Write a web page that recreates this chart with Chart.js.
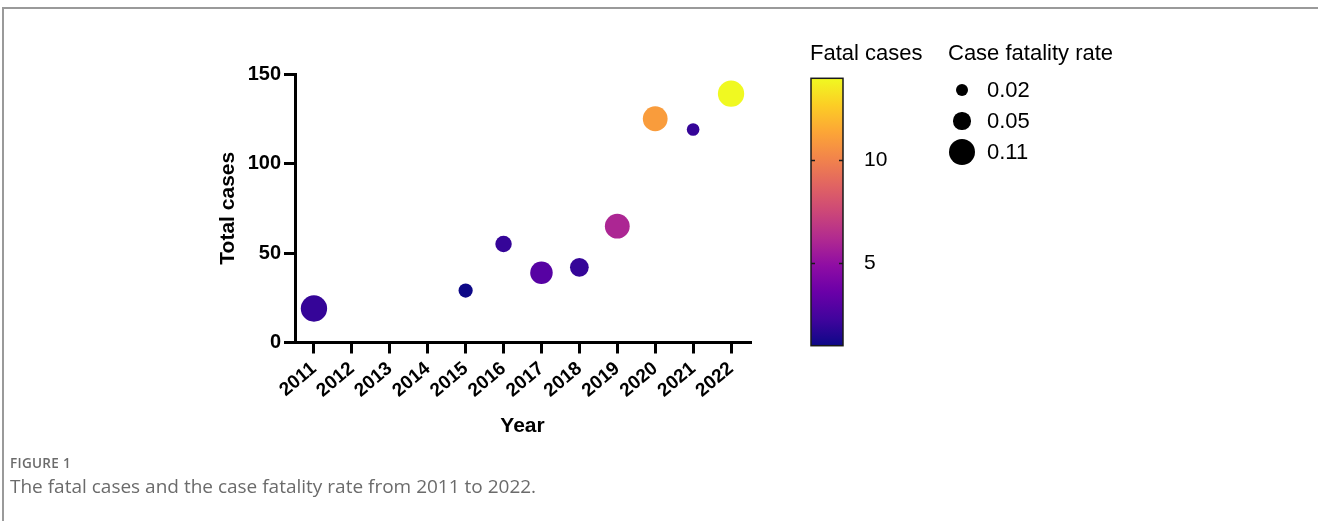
<!DOCTYPE html>
<html>
<head>
<meta charset="utf-8">
<script src="https://cdn.jsdelivr.net/npm/chart.js@4.4.0/dist/chart.umd.min.js"></script>
<style>
html,body{margin:0;padding:0;background:#fff;}
body{width:1318px;height:521px;position:relative;overflow:hidden;font-family:"Liberation Sans",Arial,sans-serif;}
#frameTop{position:absolute;left:2px;top:7px;width:1316px;height:2px;background:#9a9a9a;}
#frameLeft{position:absolute;left:2px;top:7px;width:2px;height:514px;background:#9a9a9a;}
#main{position:absolute;left:0;top:0;}
#cbar{position:absolute;left:780px;top:60px;}
.t{position:absolute;white-space:nowrap;font-size:22px;line-height:22px;color:#000;font-family:"Liberation Sans",Arial,sans-serif;}
.dot{position:absolute;background:#000;border-radius:50%;}
#figLabel{position:absolute;left:10px;top:456.5px;font-family:"Open Sans",sans-serif;font-size:13.5px;line-height:13.5px;font-weight:600;color:#6b6b6b;letter-spacing:0.3px;}
#caption{position:absolute;left:10px;top:476.5px;font-family:"Open Sans",sans-serif;font-size:19px;line-height:19px;font-weight:400;color:#6b6b6b;white-space:nowrap;}
</style>
</head>
<body>
<div id="frameTop"></div>
<div id="frameLeft"></div>
<canvas id="main" width="1318" height="521"></canvas>
<canvas id="cbar" width="140" height="300"></canvas>
<div id="legend"></div>
<div id="figLabel">FIGURE 1</div>
<div id="caption">The fatal cases and the case fatality rate from 2011 to 2022.</div>
<script>
// ---------------- data ----------------
const years = ['2011','2012','2013','2014','2015','2016','2017','2018','2019','2020','2021','2022'];
const pointYears = ['2011','2015','2016','2017','2018','2019','2020','2021','2022'];
const totalCases = [19, 29, 55, 39, 42, 65, 125, 119, 139];
const fatalCases = [2, 1, 2, 3, 2, 6, 11, 2, 14];
const fatalityRate = [0.11, 0.03, 0.045, 0.085, 0.06, 0.10, 0.10, 0.02, 0.11];
const yTicks = [0, 50, 100, 150];
const colorbarTicks = [5, 10];
const colorbarRange = [1, 14];
const sizeLegendRates = [0.02, 0.05, 0.11];
const sizeLegendLabels = ['0.02', '0.05', '0.11'];

// ---------------- helpers ----------------
const FONT = '"Liberation Sans", Arial, sans-serif';
const PLASMA = ['#0d0887','#41049d','#6a00a8','#8f0da4','#b12a90','#cc4778','#e16462','#f2844b','#fca636','#fcce25','#f0f921'];
function hexToRgb(h){return [parseInt(h.substr(1,2),16),parseInt(h.substr(3,2),16),parseInt(h.substr(5,2),16)];}
function plasma(t){
  t = Math.max(0, Math.min(1, t));
  const p = t * (PLASMA.length - 1);
  const i = Math.min(Math.floor(p), PLASMA.length - 2);
  const f = p - i;
  const a = hexToRgb(PLASMA[i]), b = hexToRgb(PLASMA[i+1]);
  const c = a.map((v,k)=>Math.round(v + (b[k]-v)*f));
  return 'rgb(' + c.join(',') + ')';
}
function colorFor(v){return plasma((v - colorbarRange[0]) / (colorbarRange[1] - colorbarRange[0]));}
function radiusFor(rate){return 4.8 + 76 * rate;}

// ---------------- main bubble chart ----------------
new Chart(document.getElementById('main'), {
  type: 'bubble',
  data: {
    labels: years,
    datasets: [{
      data: pointYears.map((x, i) => ({x: x, y: totalCases[i], r: radiusFor(fatalityRate[i])})),
      backgroundColor: fatalCases.map(colorFor),
      borderWidth: 0,
      hoverRadius: 0
    }]
  },
  options: {
    responsive: false,
    animation: false,
    events: [],
    plugins: {legend: {display: false}, tooltip: {enabled: false}},
    layout: {padding: {left: 216, top: 74, right: 568, bottom: 82.5}},
    scales: {
      x: {
        type: 'category',
        labels: years,
        offset: true,
        grid: {offset: false, drawOnChartArea: false, drawTicks: true, tickLength: 11, lineWidth: 3, color: '#000'},
        border: {display: true, width: 3, color: '#000'},
        ticks: {color: '#000', font: {family: FONT, size: 19, weight: 'bold'}, minRotation: 40, maxRotation: 40, padding: 4, autoSkip: false},
        title: {display: true, text: 'Year', color: '#000', font: {family: FONT, size: 21, weight: 'bold'}, padding: 0},
        afterFit: function(s){ s.height = 96; }
      },
      y: {
        type: 'linear',
        min: 0, max: 150,
        afterBuildTicks: function(s){ s.ticks = yTicks.map(v => ({value: v})); },
        grid: {drawOnChartArea: false, drawTicks: true, tickLength: 11, lineWidth: 3, color: '#000'},
        border: {display: true, width: 3, color: '#000'},
        ticks: {color: '#000', font: {family: FONT, size: 20, weight: 'bold'}, padding: 3},
        title: {display: true, text: 'Total cases', color: '#000', font: {family: FONT, size: 21, weight: 'bold'}, padding: 0},
        afterFit: function(s){ s.width = 79; }
      }
    }
  }
});

// ---------------- colour bar ----------------
const colorbarPlugin = {
  id: 'colorbar',
  beforeDraw(chart){
    const {ctx, chartArea: a, scales: {y}} = chart;
    const g = ctx.createLinearGradient(0, a.bottom, 0, a.top);
    PLASMA.forEach((c, i) => g.addColorStop(i / (PLASMA.length - 1), c));
    ctx.save();
    ctx.fillStyle = g;
    ctx.fillRect(a.left, a.top, a.right - a.left, a.bottom - a.top);
    ctx.strokeStyle = '#1a1a1a';
    ctx.lineWidth = 1.5;
    ctx.strokeRect(a.left, a.top, a.right - a.left, a.bottom - a.top);
    colorbarTicks.forEach(v => {
      const py = y.getPixelForValue(v);
      ctx.beginPath();
      ctx.moveTo(a.left, py); ctx.lineTo(a.left + 4, py);
      ctx.moveTo(a.right - 4, py); ctx.lineTo(a.right, py);
      ctx.stroke();
    });
    ctx.restore();
  }
};
new Chart(document.getElementById('cbar'), {
  type: 'scatter',
  data: {datasets: []},
  options: {
    responsive: false,
    animation: false,
    events: [],
    plugins: {legend: {display: false}, tooltip: {enabled: false}},
    layout: {padding: {left: 31, top: 18.3, bottom: 14.3, right: 0}},
    scales: {
      x: {display: false, min: 0, max: 1},
      y: {
        position: 'right',
        min: colorbarRange[0], max: colorbarRange[1],
        afterBuildTicks: function(s){ s.ticks = colorbarTicks.map(v => ({value: v})); },
        grid: {display: false, drawTicks: true, tickLength: 21},
        border: {display: false},
        ticks: {color: '#000', font: {family: FONT, size: 21}, padding: 0},
        afterFit: function(s){ s.width = 77; }
      }
    }
  },
  plugins: [colorbarPlugin]
});

// ---------------- legends (HTML text) ----------------
const legend = document.getElementById('legend');
function addText(txt, left, baseline){
  const d = document.createElement('div');
  d.className = 't';
  d.textContent = txt;
  d.style.left = left + 'px';
  d.style.top = (baseline - 22 * 0.8465) + 'px';
  legend.appendChild(d);
}
addText('Fatal cases', 810, 61);
addText('Case fatality rate', 948, 61);
const legendY = [90, 121, 152];
sizeLegendRates.forEach((rate, i) => {
  const r = radiusFor(rate);
  const d = document.createElement('div');
  d.className = 'dot';
  d.style.width = (2*r) + 'px';
  d.style.height = (2*r) + 'px';
  d.style.left = (962 - r) + 'px';
  d.style.top = (legendY[i] - r) + 'px';
  legend.appendChild(d);
  addText(sizeLegendLabels[i], 987, legendY[i] + 7.8);
});
</script>
</body>
</html>
